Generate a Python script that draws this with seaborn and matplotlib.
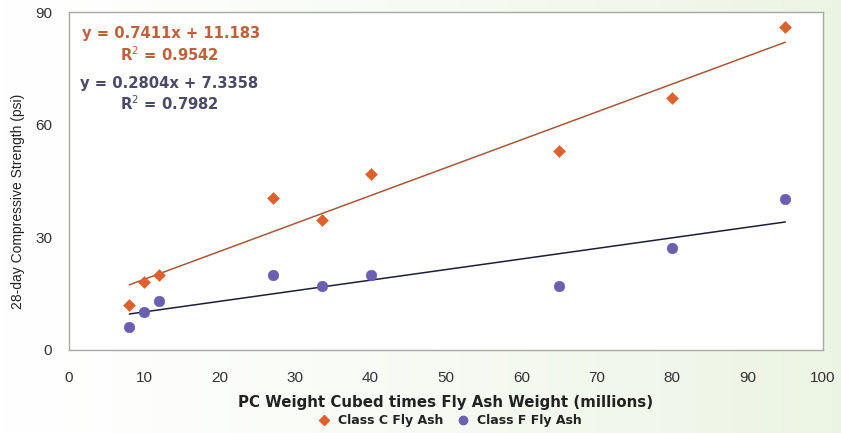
import numpy as np
import pandas as pd
import matplotlib
matplotlib.use("Agg")
import matplotlib.pyplot as plt
import seaborn as sns
from matplotlib.lines import Line2D

# ---- data ----
x_vals = [8, 10, 12, 27, 33.5, 40, 65, 80, 95]
class_c = [12, 18, 20, 40.5, 34.5, 47, 53, 67, 86]
class_f = [6, 10, 13, 20, 17, 20, 17, 27.2, 40.2]
series_names = ["Class C Fly Ash", "Class F Fly Ash"]
eq_c = ["y = 0.7411x + 11.183", "R$^2$ = 0.9542"]
eq_f = ["y = 0.2804x + 7.3358", "R$^2$ = 0.7982"]
x_ticks = list(range(0, 101, 10))
y_ticks = [0, 30, 60, 90]

df = pd.DataFrame({
    "x": x_vals * 2,
    "y": class_c + class_f,
    "series": [series_names[0]] * len(x_vals) + [series_names[1]] * len(x_vals),
})

sns.set_style("white")
plt.rcParams["font.family"] = ["Liberation Sans", "DejaVu Sans"]
plt.rcParams["mathtext.fontset"] = "dejavusans"

fig = plt.figure(figsize=(8.41, 4.33), dpi=100)
# background gradient
bg = fig.add_axes([0, 0, 1, 1], zorder=-10)
grad = np.linspace(0, 1, 256)[None, :] ** 1.3
white = np.array([1.0, 1.0, 1.0])
green = np.array([0.925, 0.957, 0.89])
img = white[None, None, :] * (1 - grad[..., None]) + green[None, None, :] * grad[..., None]
bg.imshow(img, aspect="auto", extent=[0, 1, 0, 1])
bg.axis("off")

ax = fig.add_axes([0.082, 0.1917, 0.8966, 0.7803])
ax.set_facecolor("white")

c_orange = "#e0602c"
c_blue = "#6a5fb0"
line_c = "#a8583a"
line_f = "#1e1e38"

palette = {series_names[0]: c_orange, series_names[1]: c_blue}
markers = {series_names[0]: "D", series_names[1]: "o"}
sizes = {series_names[0]: 38, series_names[1]: 60}

for name in series_names:
    sub = df[df.series == name]
    sns.regplot(data=sub, x="x", y="y", ax=ax, ci=None, truncate=True,
                scatter=False,
                line_kws=dict(color=line_c if name == series_names[0] else line_f, lw=1.1, zorder=2))
    sns.scatterplot(data=sub, x="x", y="y", ax=ax, color=palette[name],
                    marker=markers[name], s=sizes[name], linewidth=0.3,
                    edgecolor=palette[name], zorder=3, legend=False)

ax.set_xlim(0, 100)
ax.set_ylim(0, 90)
ax.set_xticks(x_ticks)
ax.set_yticks(y_ticks)
ax.tick_params(axis="both", length=0, labelsize=11, labelcolor="#333333")
ax.tick_params(axis="x", pad=15)
ax.tick_params(axis="y", pad=12)
for s in ax.spines.values():
    s.set_color("#a8a8a8")
    s.set_linewidth(1.0)

bold_font = ["DejaVu Sans"]
ax.set_xlabel("PC Weight Cubed times Fly Ash Weight (millions)",
              fontsize=10.8, fontweight="bold", color="#222222", labelpad=7,
              family=bold_font)
ax.set_ylabel("28-day Compressive Strength (psi)", fontsize=10, color="#222222")
ax.yaxis.set_label_coords(-0.058, 0.44)

# equations
eq_kw = dict(transform=ax.transAxes, fontsize=10.6, fontweight="bold",
             va="center", ha="left", family=bold_font)
ax.text(0.017, 0.937, eq_c[0], color="#c0603a", **eq_kw)
ax.text(0.068, 0.874, eq_c[1], color="#c0603a", **eq_kw)
ax.text(0.014, 0.790, eq_f[0], color="#4a4a68", **eq_kw)
ax.text(0.068, 0.729, eq_f[1], color="#4a4a68", **eq_kw)

handles = [
    Line2D([], [], marker="D", color=c_orange, linestyle="none", markersize=5),
    Line2D([], [], marker="o", color=c_blue, linestyle="none", markersize=6),
]
leg = fig.legend(handles, series_names, loc="center", bbox_to_anchor=(0.531, 0.028),
                 ncol=2, frameon=False, handletextpad=0.1, columnspacing=0.6,
                 prop=dict(weight="bold", size=9, family=bold_font))
for t in leg.get_texts():
    t.set_color("#222222")

fig.savefig("out.png", dpi=100)
